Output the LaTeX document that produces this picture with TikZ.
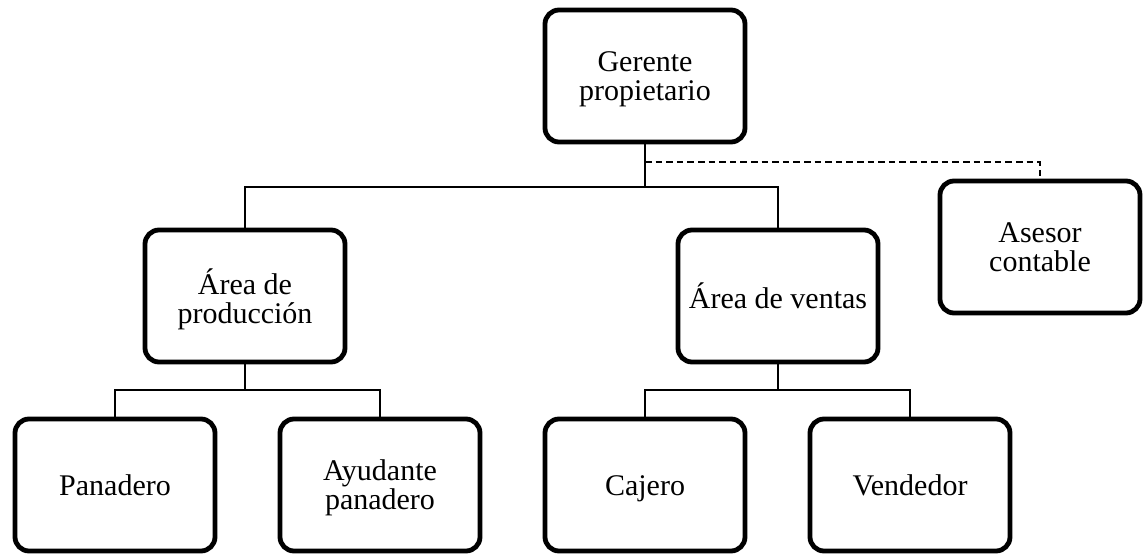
\documentclass[tikz,border=0pt]{standalone}
\usepackage{fontspec}
\setmainfont{Liberation Serif}
\begin{document}
\begin{tikzpicture}[x=0.5pt, y=-0.5pt,
  cargo/.style={draw, rounded corners=7pt, line width=2.4pt,
    minimum width=100pt, minimum height=66pt, inner sep=2pt,
    align=center, font=\fontsize{15}{14.5}\selectfont,
    execute at begin node=\strut, text depth=0pt},
  enlace/.style={line width=0.6pt},
  asesoria/.style={enlace, dash pattern=on 3.3pt off 2pt}]
\useasboundingbox (0,0) rectangle (1146,556);
% niveles
\coordinate (lineaAsesor) at (0,162);
\coordinate (lineaAreas) at (0,187);
\coordinate (lineaCargos) at (0,390);
% cajas
\node[cargo] (gerente) at (645,76) {Gerente\\propietario};
\node[cargo] (asesor) at (1040,247) {Asesor\\contable};
\node[cargo] (produccion) at (245,296) {Área de\\producción};
\node[cargo] (ventas) at (778,296) {Área de ventas};
\node[cargo] (panadero) at (115,485) {Panadero};
\node[cargo] (ayudante) at (380,485) {Ayudante\\panadero};
\node[cargo] (cajero) at (645,485) {Cajero};
\node[cargo] (vendedor) at (910,485) {Vendedor};
% conectores
\draw[enlace] (gerente.south) -- (gerente.south |- lineaAreas);
\draw[enlace] (produccion.north) |- (ventas.north |- lineaAreas) -- (ventas.north);
\draw[asesoria] (gerente.south |- lineaAsesor) -| (asesor.north);
\draw[enlace] (produccion.south) -- (produccion.south |- lineaCargos);
\draw[enlace] (panadero.north) |- (ayudante.north |- lineaCargos) -- (ayudante.north);
\draw[enlace] (ventas.south) -- (ventas.south |- lineaCargos);
\draw[enlace] (cajero.north) |- (vendedor.north |- lineaCargos) -- (vendedor.north);
\end{tikzpicture}
\end{document}
